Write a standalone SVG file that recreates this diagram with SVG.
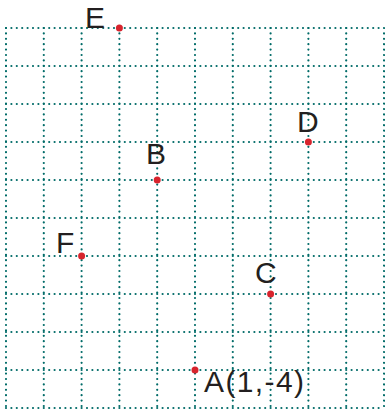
<svg xmlns="http://www.w3.org/2000/svg" width="385" height="412" viewBox="0 0 385 412">
<style>
.g{stroke:#006b68;stroke-width:2.2;stroke-linecap:round;stroke-dasharray:0 5.4;fill:none}
.p{fill:#d7242d}
.t{font-family:"Liberation Sans",Arial,sans-serif;font-size:30px;fill:#231f20}
</style>
<rect width="385" height="412" fill="#fff"/>
<g id="grid" class="g">
<path d="M6 28V408M43.8 28V408M81.6 28V408M119.4 28V408M157.2 28V408M195 28V408M232.8 28V408M270.6 28V408M308.4 28V408M346.2 28V408M384 28V408"/>
<path d="M6 28H384M6 66H384M6 104H384M6 142H384M6 180H384M6 218H384M6 256H384M6 294H384M6 332H384M6 370H384M6 408H384"/>
</g>
<g id="E"><circle class="p" cx="119.4" cy="28" r="3.5"/><text class="t" x="85" y="28">E</text></g>
<g id="D"><circle class="p" cx="308.4" cy="142" r="3.5"/><text class="t" x="297" y="132">D</text></g>
<g id="B"><circle class="p" cx="157.2" cy="180" r="3.5"/><text class="t" x="146" y="164">B</text></g>
<g id="F"><circle class="p" cx="81.6" cy="256" r="3.5"/><text class="t" x="56" y="253">F</text></g>
<g id="C"><circle class="p" cx="270.6" cy="294" r="3.5"/><text class="t" x="255" y="283">C</text></g>
<g id="A"><circle class="p" cx="195" cy="370" r="3.5"/><text class="t" x="204" y="392" textLength="100" lengthAdjust="spacing">A(1,-4)</text></g>
</svg>
